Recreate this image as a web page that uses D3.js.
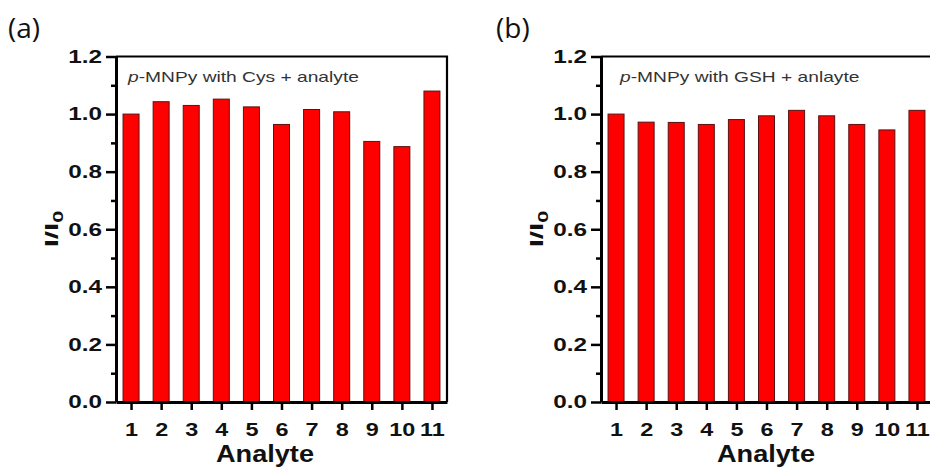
<!DOCTYPE html>
<html>
<head>
<meta charset="utf-8">
<script src="https://cdn.jsdelivr.net/npm/d3@7"></script>
<style>
  body { margin: 0; background: #fff; }
  svg { display: block; }
</style>
</head>
<body>
<div id="chart"></div>
<script>
// data
const analytes = ["1", "2", "3", "4", "5", "6", "7", "8", "9", "10", "11"];
const cysValues = [1.000, 1.043, 1.030, 1.052, 1.025, 0.964, 1.016, 1.008, 0.905, 0.887, 1.080];
const gshValues = [1.000, 0.972, 0.971, 0.964, 0.981, 0.994, 1.013, 0.994, 0.964, 0.945, 1.013];
const yMajorTicks = [0, 0.2, 0.4, 0.6, 0.8, 1.0, 1.2];
const yMinorTicks = [0.1, 0.3, 0.5, 0.7, 0.9, 1.1];

const W = 930, H = 470;
const plotTop = 56.5, plotBottom = 402, plotW = 331;
const barW = 16;

const svg = d3.select("#chart")
    .append("svg")
    .attr("width", W)
    .attr("height", H);

function drawPanel({ values, left, tag, tagX, note, noteX, titleX }) {

    const x = d3.scaleLinear()
        .domain([0.5, analytes.length + 0.5])
        .range([left, left + plotW]);
    const y = d3.scaleLinear()
        .domain([0, 1.2])
        .range([plotBottom, plotTop]);

    const g = svg.append("g");

    // bars
    g.selectAll("rect.bar")
        .data(values)
        .enter()
        .append("rect")
        .attr("class", "bar")
        .attr("x", (d, i) => x(i + 1) - barW / 2)
        .attr("y", d => y(d))
        .attr("width", barW)
        .attr("height", d => y(0) - y(d))
        .attr("fill", "#ff0000")
        .attr("stroke", "#5a1212")
        .attr("stroke-width", 1);

    // top / right frame
    g.append("path")
        .attr("d", `M${x.range()[0]},${plotTop}H${x.range()[1]}V${plotBottom}`)
        .attr("fill", "none")
        .attr("stroke", "#000")
        .attr("stroke-width", 2.2);

    // minor y ticks
    g.append("g")
        .attr("transform", `translate(${left},0)`)
        .call(d3.axisLeft(y).tickValues(yMinorTicks).tickSize(5).tickSizeOuter(0).tickFormat(""))
        .call(a => a.select(".domain").remove())
        .call(a => a.selectAll("line").attr("stroke-width", 2.5));

    // major y ticks
    const yAx = g.append("g")
        .attr("transform", `translate(${left},0)`)
        .call(d3.axisLeft(y).tickValues(yMajorTicks).tickSize(10).tickSizeOuter(0).tickPadding(4)
            .tickFormat(d3.format(".1f")));
    yAx.select(".domain").attr("stroke-width", 3);
    yAx.selectAll("line").attr("stroke-width", 2.5);
    yAx.selectAll("text")
        .style("font-family", "'Liberation Sans', Arial, sans-serif")
        .style("font-weight", "bold")
        .style("font-size", "18px")
        .attr("fill", "#111")
        .each(function () {
            const t = d3.select(this);
            const tx = +t.attr("x");
            t.attr("x", 0).attr("transform", `translate(${tx},0) scale(1.35,1)`);
        });

    // x axis
    const xAx = g.append("g")
        .attr("transform", `translate(0,${plotBottom})`)
        .call(d3.axisBottom(x).tickValues(d3.range(1, analytes.length + 1))
            .tickFormat((d, i) => analytes[i]).tickSize(8).tickSizeOuter(0).tickPadding(13));
    xAx.select(".domain").attr("stroke-width", 3);
    xAx.selectAll("line").attr("stroke-width", 2.5);
    xAx.selectAll(".tick text")
        .style("font-family", "'Liberation Sans', Arial, sans-serif")
        .style("font-weight", "bold")
        .style("font-size", "18px")
        .attr("fill", "#111")
        .attr("transform", "scale(1.3,1)");

    // axis titles
    g.append("text")
        .attr("transform", `translate(${titleX},462) scale(1.18,1)`)
        .attr("text-anchor", "middle")
        .style("font-family", "'Liberation Sans', Arial, sans-serif")
        .style("font-weight", "bold")
        .style("font-size", "23px")
        .attr("fill", "#111")
        .text("Analyte");

    const yl = g.append("text")
        .attr("transform", `translate(${left - 58},229) rotate(-90) scale(1.55,1)`)
        .attr("text-anchor", "middle")
        .style("font-family", "'Liberation Sans', Arial, sans-serif")
        .style("font-weight", "bold")
        .style("font-size", "19px")
        .attr("fill", "#111");
    yl.append("tspan").text("I/I");
    yl.append("tspan").attr("dy", 5).style("font-size", "14px").text("0");

    // note inside the plot
    const nt = g.append("text")
        .attr("transform", `translate(${noteX},82) scale(1.28,1)`)
        .style("font-family", "'Liberation Sans', Arial, sans-serif")
        .style("font-size", "15px")
        .attr("fill", "#333");
    nt.append("tspan").style("font-style", "italic").text("p");
    nt.append("tspan").text(note);

    // panel tag
    svg.append("text")
        .attr("x", tagX)
        .attr("y", 38)
        .style("font-family", "'Open Sans', sans-serif")
        .style("font-size", "28px")
        .attr("fill", "#111")
        .text(tag);
}

drawPanel({ values: cysValues, left: 116, tag: "(a)", tagX: 8, note: "-MNPy with Cys + analyte", noteX: 128, titleX: 265 });
drawPanel({ values: gshValues, left: 601, tag: "(b)", tagX: 496, note: "-MNPy with GSH + anlayte", noteX: 620, titleX: 766 });
</script>
</body>
</html>
